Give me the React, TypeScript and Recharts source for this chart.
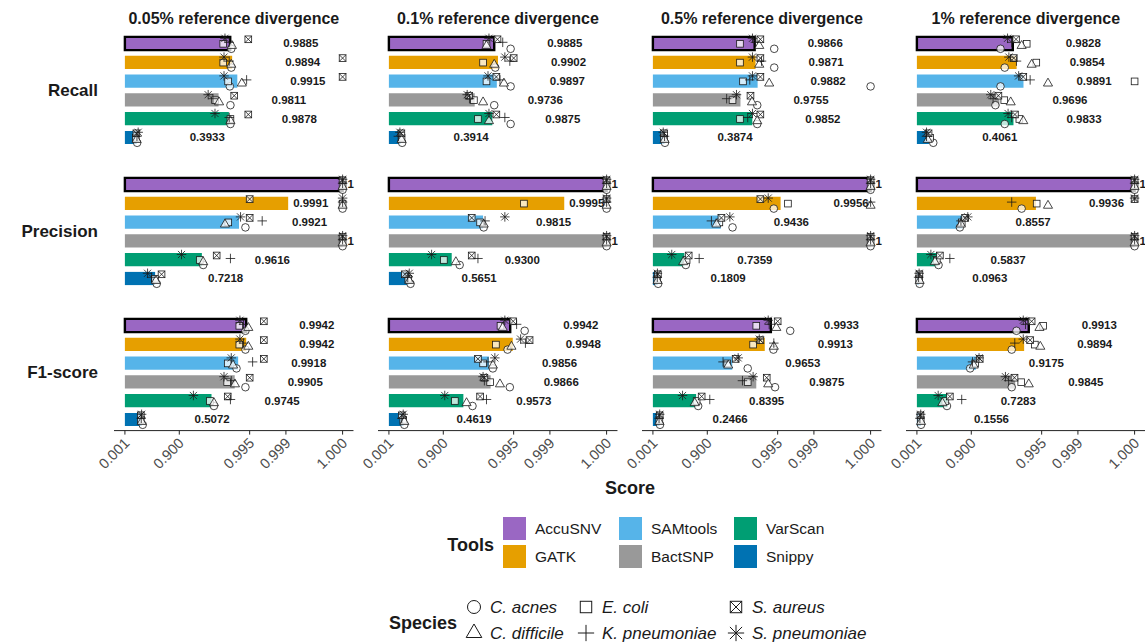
import React from "react";
import { ComposedChart, Bar, Scatter, XAxis, YAxis, Cell, LabelList } from "recharts";

const tools = ["AccuSNV", "GATK", "SAMtools", "BactSNP", "VarScan", "Snippy"];
const toolColors = ["#9a67c3", "#e69f00", "#56b4e9", "#999999", "#009e73", "#0072b2"];
const divergences = ["0.05% reference divergence", "0.1% reference divergence", "0.5% reference divergence", "1% reference divergence"];
const metrics = ["Recall", "Precision", "F1-score"];
const speciesNames = ["C. acnes", "E. coli", "S. aureus", "C. difficile", "K. pneumoniae", "S. pneumoniae"];
const speciesShapes = ["circle", "square", "boxcross", "triangle", "plus", "asterisk"];
const xTicks = [0.001, 0.9, 0.995, 0.999, 1];

// mean score per tool (rows: divergence, cols: tools)
const recallMean = [
  [0.9885, 0.9894, 0.9915, 0.9811, 0.9878, 0.3933],
  [0.9885, 0.9902, 0.9897, 0.9736, 0.9875, 0.3914],
  [0.9866, 0.9871, 0.9882, 0.9755, 0.9852, 0.3874],
  [0.9828, 0.9854, 0.9891, 0.9696, 0.9833, 0.4061],
];
const precisionMean = [
  [1, 0.9991, 0.9921, 1, 0.9616, 0.7218],
  [1, 0.9995, 0.9815, 1, 0.93, 0.5651],
  [1, 0.9956, 0.9436, 1, 0.7359, 0.1809],
  [1, 0.9936, 0.8557, 1, 0.5837, 0.0963],
];
const f1Mean = [
  [0.9942, 0.9942, 0.9918, 0.9905, 0.9745, 0.5072],
  [0.9942, 0.9948, 0.9856, 0.9866, 0.9573, 0.4619],
  [0.9933, 0.9913, 0.9653, 0.9875, 0.8395, 0.2466],
  [0.9913, 0.9894, 0.9175, 0.9845, 0.7283, 0.1556],
];

// per species: [C. acnes, E. coli, S. aureus, C. difficile, K. pneumoniae, S. pneumoniae]
const recallSpecies = [
  [
    [0.989, 0.9845, 0.9947, 0.9893, 0.988, 0.9856],
    [0.989, 0.9845, 1, 0.989, 0.988, 0.985],
    [0.9883, 0.9874, 1, 0.993, 0.9943, 0.985],
    [0.9886, 0.978, 0.9903, 0.9815, 0.976, 0.9706],
    [0.9886, 0.9886, 0.9947, 0.9886, 0.988, 0.978],
    [0.405, 0.37, 0.385, 0.39, 0.4, 0.43],
  ],
  [
    [0.9943, 0.984, 0.99, 0.984, 0.992, 0.9856],
    [0.989, 0.9815, 0.995, 0.9885, 0.9941, 0.9927],
    [0.9943, 0.984, 0.9895, 0.9924, 0.991, 0.985],
    [0.9885, 0.9727, 0.9667, 0.9815, 0.967, 0.9637],
    [0.9943, 0.977, 0.9895, 0.9856, 0.9927, 0.9856],
    [0.43, 0.415, 0.41, 0.415, 0.33, 0.372],
  ],
  [
    [0.9942, 0.975, 0.9895, 0.989, 0.987, 0.9853],
    [0.9942, 0.975, 0.9895, 0.989, 0.99, 0.9853],
    [1, 0.978, 0.9895, 0.9928, 0.9835, 0.9853],
    [0.988, 0.9657, 0.984, 0.985, 0.956, 0.971],
    [0.988, 0.975, 0.9895, 0.988, 0.982, 0.9853],
    [0.4, 0.375, 0.38, 0.39, 0.39, 0.355],
  ],
  [
    [0.971, 0.9905, 0.985, 0.9882, 0.982, 0.9785],
    [0.9758, 0.9937, 0.9835, 0.9923, 0.9853, 0.9797],
    [0.971, 1, 0.989, 0.9962, 0.9918, 0.9866],
    [0.964, 0.9753, 0.9683, 0.9812, 0.9603, 0.9562],
    [0.9758, 0.987, 0.9843, 0.989, 0.982, 0.979],
    [0.5, 0.43, 0.39, 0.37, 0.335, 0.335],
  ],
];
const precisionSpecies = [
  [
    [1, 1, 1, 1, 1, 1],
    [1, 1, 0.995, 1, 1, 1],
    [0.994, 0.9875, 0.995, 0.9856, 0.9971, 0.9926],
    [1, 1, 1, 1, 1, 1],
    [0.9637, 0.958, 0.9795, 0.9637, 0.9886, 0.909],
    [0.74, 0.72, 0.788, 0.73, 0.677, 0.617],
  ],
  [
    [1, 1, 1, 1, 1, 1],
    [1, 0.9968, 1, 1, 1, 1],
    [0.982, 0.979, 0.97, 0.982, 0.983, 0.9927],
    [1, 1, 1, 1, 1, 1],
    [0.95, 0.9025, 0.97, 0.9413, 0.977, 0.836],
    [0.6, 0.56, 0.492, 0.578, 0.55, 0.578],
  ],
  [
    [1, 1, 1, 1, 1, 1],
    [0.9941, 0.9968, 0.9895, 1, 1, 0.9925],
    [0.9657, 0.94, 0.945, 0.932, 0.916, 0.9615],
    [1, 1, 1, 1, 1, 1],
    [0.752, 0.76, 0.78, 0.723, 0.859, 0.55],
    [0.2, 0.17, 0.19, 0.18, 0.17, 0.175],
  ],
  [
    [1, 1, 1, 1, 1, 1],
    [0.9882, 0.9938, 1, 0.9962, 0.982, 1],
    [0.838, 0.85, 0.87, 0.845, 0.845, 0.884],
    [1, 1, 1, 1, 1, 1],
    [0.6, 0.57, 0.622, 0.533, 0.752, 0.447],
    [0.11, 0.09, 0.1, 0.11, 0.07, 0.09],
  ],
];
const f1Species = [
  [
    [0.994, 0.9922, 0.9973, 0.9947, 0.9935, 0.9924],
    [0.994, 0.9922, 0.9973, 0.9947, 0.9935, 0.9924],
    [0.9912, 0.9872, 0.9973, 0.9898, 0.9956, 0.989],
    [0.994, 0.9869, 0.995, 0.9906, 0.989, 0.985],
    [0.977, 0.9727, 0.9872, 0.977, 0.9886, 0.945],
    [0.53, 0.49, 0.49, 0.507, 0.5, 0.507],
  ],
  [
    [0.9969, 0.9912, 0.9949, 0.992, 0.9956, 0.9927],
    [0.9935, 0.9893, 0.9975, 0.9945, 0.997, 0.9963],
    [0.9878, 0.9815, 0.977, 0.9878, 0.985, 0.9888],
    [0.9941, 0.9863, 0.9825, 0.991, 0.9825, 0.9815],
    [0.971, 0.9388, 0.979, 0.9627, 0.984, 0.906],
    [0.48, 0.455, 0.42, 0.48, 0.42, 0.455],
  ],
  [
    [0.9971, 0.9875, 0.995, 0.9947, 0.9928, 0.9925],
    [0.994, 0.9857, 0.9895, 0.9941, 0.9941, 0.989],
    [0.982, 0.957, 0.97, 0.9588, 0.9487, 0.973],
    [0.9944, 0.982, 0.992, 0.9925, 0.9775, 0.9857],
    [0.853, 0.843, 0.873, 0.83, 0.91, 0.715],
    [0.26, 0.24, 0.25, 0.24, 0.23, 0.25],
  ],
  [
    [0.9853, 0.9953, 0.9923, 0.9945, 0.99, 0.989],
    [0.982, 0.9933, 0.9918, 0.9947, 0.9842, 0.989],
    [0.895, 0.915, 0.93, 0.91, 0.905, 0.928],
    [0.982, 0.988, 0.984, 0.9913, 0.9795, 0.9765],
    [0.72, 0.7, 0.752, 0.66, 0.85, 0.594],
    [0.16, 0.15, 0.14, 0.16, 0.12, 0.15],
  ],
];

const meanSets = [recallMean, precisionMean, f1Mean];
const speciesSets = [recallSpecies, precisionSpecies, f1Species];

// score axis transform: -log10(1 - x + 1e-4)
const tf = (v: number) => -Math.log10(1 - v + 1e-4);

const FONT = "'Liberation Sans', Arial, Helvetica, sans-serif";
const PXU = 54.43;
const PW = 4.4 * PXU;
const PH = 116.6;
const PAD = 1.9;
const barStart = [125, 389, 653, 917];
const rowTop = [32, 173, 314];
const speciesDy = [5.5, 0.5, -4, 2.5, -1, -5];

function Marker({ kind, cx, cy, s, sw = 0.8 }: { kind: string; cx: number; cy: number; s: number; sw?: number }) {
  const st = { stroke: "#1a1a1a", strokeWidth: sw };
  const fill = { fill: "#ffffff", fillOpacity: 0.75 };
  if (kind === "circle") return <circle cx={cx} cy={cy} r={s} {...fill} {...st} />;
  if (kind === "square" || kind === "boxcross") {
    const h = s * 0.88;
    return (
      <g>
        <rect x={cx - h} y={cy - h} width={2 * h} height={2 * h} {...fill} {...st} />
        {kind === "boxcross" && (
          <path d={`M${cx - h},${cy - h}L${cx + h},${cy + h}M${cx - h},${cy + h}L${cx + h},${cy - h}`} fill="none" {...st} />
        )}
      </g>
    );
  }
  if (kind === "triangle") {
    const L = s * 2.4;
    const ht = L * 0.866;
    return (
      <polygon
        points={`${cx},${cy - (2 * ht) / 3} ${cx - L / 2},${cy + ht / 3} ${cx + L / 2},${cy + ht / 3}`}
        {...fill}
        {...st}
      />
    );
  }
  const a = s * 1.25;
  if (kind === "plus") {
    return <path d={`M${cx - a},${cy}L${cx + a},${cy}M${cx},${cy - a}L${cx},${cy + a}`} fill="none" {...st} />;
  }
  const d = a * 0.75;
  return (
    <path
      d={`M${cx - a},${cy}L${cx + a},${cy}M${cx},${cy - a}L${cx},${cy + a}M${cx - d},${cy - d}L${cx + d},${cy + d}M${cx - d},${cy + d}L${cx + d},${cy - d}`}
      fill="none"
      {...st}
    />
  );
}

function XTick(props: any) {
  const { x, y, payload } = props;
  let best = 0;
  xTicks.forEach((t, i) => {
    if (Math.abs(tf(t) - payload.value) < Math.abs(tf(xTicks[best]) - payload.value)) best = i;
  });
  const ax = x + 5.5;
  const ay = y + 7.5;
  return (
    <text x={ax} y={ay} textAnchor="end" fontSize={14.5} fill="#4d4d4d" fontFamily={FONT} transform={`rotate(-45, ${ax}, ${ay})`}>
      {xTicks[best].toFixed(3)}
    </text>
  );
}

function Facet({ r, c }: { r: number; c: number }) {
  const means = meanSets[r][c];
  const sp = speciesSets[r][c];
  const rows = tools.map((t, i) => ({ tool: t, x: tf(means[i]), v: means[i] }));
  const bottom = r === 2;
  const ML = 34, MT = 4, MR = 18, MB = 4;
  const XH = 50;
  const W = PW + ML + MR;
  const H = PH + MT + MB + (bottom ? XH : 0);
  const left = barStart[c] - 0.2 * PXU - ML;
  const top = rowTop[r] - MT;

  const renderLabel = (p: any) => {
    const v = Number(p.value);
    const off = v >= 0.999 ? 5 : 53;
    return (
      <text
        x={p.x + p.width + off}
        y={p.y + p.height / 2}
        dominantBaseline="central"
        fontSize={11.5}
        fontWeight="bold"
        fontFamily={FONT}
        fill="#1a1a1a"
      >
        {v === 1 ? "1" : v.toFixed(4)}
      </text>
    );
  };

  return (
    <div style={{ position: "absolute", left, top }}>
      <ComposedChart width={W} height={H} data={rows} layout="vertical" margin={{ top: MT, right: MR, bottom: MB, left: ML }}>
        <XAxis
          type="number"
          dataKey="x"
          domain={[-0.2, 4.2]}
          allowDataOverflow
          ticks={xTicks.map(tf)}
          interval={0}
          hide={!bottom}
          height={XH}
          axisLine={{ stroke: "#222" }}
          tickLine={{ stroke: "#222" }}
          tickSize={4}
          tick={<XTick />}
        />
        <YAxis
          yAxisId={0}
          type="category"
          dataKey="tool"
          width={0}
          hide={c !== 0}
          tick={false}
          tickLine={false}
          axisLine={{ stroke: "#222" }}
          padding={{ top: PAD, bottom: PAD }}
        />
        <YAxis yAxisId="pts" type="number" dataKey="y" domain={[0, 6]} hide width={0} padding={{ top: PAD, bottom: PAD }} />
        <Bar dataKey="x" yAxisId={0} barSize={13.2} isAnimationActive={false}>
          {rows.map((row, i) => (
            <Cell key={row.tool} fill={toolColors[i]} stroke={i === 0 ? "#000" : "none"} strokeWidth={i === 0 ? 2.4 : 0} />
          ))}
          <LabelList dataKey="v" content={renderLabel} />
        </Bar>
        {speciesNames.map((name, k) => (
          <Scatter
            key={name}
            name={name}
            yAxisId="pts"
            data={tools.map((t, i) => ({ x: tf(sp[i][k]), y: i + 0.5 }))}
            isAnimationActive={false}
            shape={(p: any) => <Marker kind={speciesShapes[k]} cx={p.cx} cy={p.cy + speciesDy[k]} s={3.8} />}
          />
        ))}
      </ComposedChart>
    </div>
  );
}

function Overlay() {
  const toolX = [503, 619, 734];
  const toolY = [517, 545];
  const spX = [474, 586, 736];
  const spY = [607, 633];
  return (
    <svg width={1145} height={644} style={{ position: "absolute", left: 0, top: 0 }} fontFamily={FONT}>
      {divergences.map((d, c) => (
        <text key={d} x={barStart[c] - 10.9 + PW / 2} y={24} textAnchor="middle" fontSize={16} fontWeight="bold" fill="#1a1a1a">
          {d}
        </text>
      ))}
      {metrics.map((m, r) => (
        <text key={m} x={98} y={rowTop[r] + PH / 2 + 6} textAnchor="end" fontSize={17} fontWeight="bold" fill="#1a1a1a">
          {m}
        </text>
      ))}
      <text x={630} y={494} textAnchor="middle" fontSize={18} fontWeight="bold" fill="#1a1a1a">
        Score
      </text>
      <text x={494} y={551} textAnchor="end" fontSize={18} fontWeight="bold" fill="#1a1a1a">
        Tools
      </text>
      {tools.map((t, i) => {
        const col = Math.floor(i / 2);
        const row = i % 2;
        return (
          <g key={t}>
            <rect x={toolX[col]} y={toolY[row]} width={23} height={23} fill={toolColors[i]} />
            <text x={toolX[col] + 32} y={toolY[row] + 17} fontSize={15.5} fill="#1a1a1a">
              {t}
            </text>
          </g>
        );
      })}
      <text x={457} y={629} textAnchor="end" fontSize={18} fontWeight="bold" fill="#1a1a1a">
        Species
      </text>
      {speciesNames.map((n, k) => {
        const col = k < 3 ? k : k - 3;
        const row = k < 3 ? 0 : 1;
        return (
          <g key={n}>
            <Marker kind={speciesShapes[k]} cx={spX[col]} cy={spY[row]} s={6.5} sw={1} />
            <text x={spX[col] + 16} y={spY[row] + 6} fontSize={17} fontStyle="italic" fill="#1a1a1a">
              {n}
            </text>
          </g>
        );
      })}
    </svg>
  );
}

export default function App() {
  return (
    <div style={{ position: "absolute", left: 0, top: 0, width: 1145, height: 644, background: "#fff" }}>
      <Overlay />
      {[0, 1, 2].map((r) => [0, 1, 2, 3].map((c) => <Facet key={`${r}-${c}`} r={r} c={c} />))}
    </div>
  );
}
